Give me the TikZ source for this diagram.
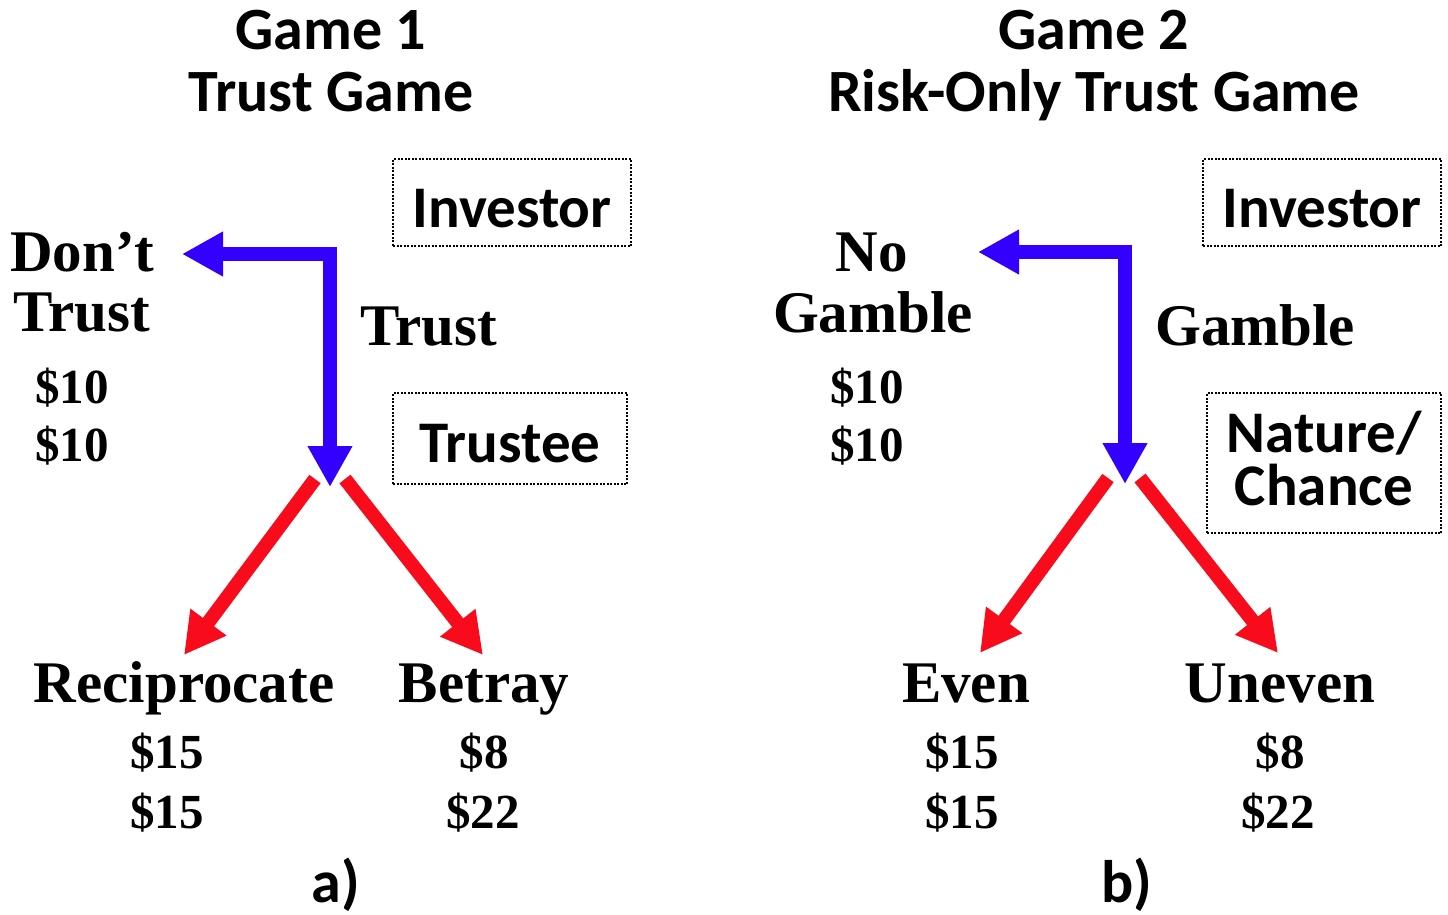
\documentclass[tikz,border=0pt]{standalone}
\usepackage{fontspec}
\setmainfont{Liberation Serif}
\newfontfamily\calfont{Carlito}
\usetikzlibrary{arrows.meta}
\definecolor{tblue}{RGB}{51,0,255}
\definecolor{tred}{RGB}{248,12,28}
\begin{document}
\begin{tikzpicture}[x=1pt,y=-1pt,
  ttl/.style={font=\calfont\bfseries\fontsize{60}{62}\selectfont, anchor=base, inner sep=0},
  lbl/.style={font=\bfseries\fontsize{59}{62}\selectfont, anchor=base, inner sep=0},
  pay/.style={font=\bfseries\fontsize{49}{56}\selectfont, anchor=base, inner sep=0},
  rolebox/.style={draw, line width=2pt, dash pattern=on 2pt off 1.5pt, font=\calfont\bfseries\fontsize{59}{53}\selectfont, anchor=base, inner sep=0, align=center},
  barrow/.style={draw=tblue, line width=14pt, line join=miter, {Triangle[length=41pt,width=42pt]}-{Triangle[length=41pt,width=42pt]}},
  rarrow/.style={draw=tred, line width=14pt, -{Triangle[length=41pt,width=42pt]}}
]
\useasboundingbox (0,0) rectangle (1448,915);
\fill[white] (0,0) rectangle (1448,915);

% Titles
\node[ttl] (g1a) at (331,50) {Game 1};
\node[ttl] (g1b) at (331,112) {Trust Game};
\node[ttl] (g2a) at (1094,50) {Game 2};
\node[ttl] (g2b) at (1094,112) {Risk-Only Trust Game};

% Role boxes
\node[rolebox, text width=238pt, text height=68pt, text depth=19pt] (inv1) at (512,227) {Investor};
\node[rolebox, text width=234pt, text height=69pt, text depth=22pt] (tee) at (510,462) {Trustee};
\node[rolebox, text width=238pt, text height=68pt, text depth=19pt] (inv2) at (1322,227) {Investor};
\node[rolebox, text width=234pt, text height=59pt, text depth=81pt] (nat) at (1324,452) {Nature/\\Chance};

% Game 1 labels
\node[lbl, anchor=base west] (dt1) at (10,271) {Don’t};
\node[lbl, anchor=base west] (dt2) at (13,331) {Trust};
\node[pay, anchor=base west] (p1a) at (35,403) {\$10};
\node[pay, anchor=base west] (p1b) at (35,461) {\$10};
\node[lbl, anchor=base west] (tr) at (360,345) {Trust};
\node[lbl] (rec) at (184,702) {Reciprocate};
\node[lbl] (bet) at (484,702) {Betray};
\node[pay] (r1) at (167,768) {\$15};
\node[pay] (r2) at (167,828) {\$15};
\node[pay] (b1) at (484,768) {\$8};
\node[pay] (b2) at (483,828) {\$22};
\node[ttl] (la) at (336,902) {a)};

% Game 2 labels
\node[lbl] (ng1) at (872,271) {No};
\node[lbl] (ng2) at (873,332) {Gamble};
\node[pay] (q1a) at (867,403) {\$10};
\node[pay] (q1b) at (867,461) {\$10};
\node[lbl, anchor=base west] (gm) at (1155,345) {Gamble};
\node[lbl] (ev) at (966,702) {Even};
\node[lbl] (un) at (1280,702) {Uneven};
\node[pay] (e1) at (962,768) {\$15};
\node[pay] (e2) at (962,828) {\$15};
\node[pay] (u1) at (1280,768) {\$8};
\node[pay] (u2) at (1278,828) {\$22};
\node[ttl] (lb) at (1127,902) {b)};

% Arrow coordinates
\coordinate (a1l) at (182,254);
\coordinate (a1c) at (330,254);
\coordinate (a1d) at (330,487);
\coordinate (r1ls) at (315,479);
\coordinate (r1le) at (184,655);
\coordinate (r1rs) at (345,479);
\coordinate (r1re) at (483,655);
\coordinate (a2l) at (978,252);
\coordinate (a2c) at (1125,252);
\coordinate (a2d) at (1125,484);
\coordinate (r2ls) at (1108,478);
\coordinate (r2le) at (980,653);
\coordinate (r2rs) at (1140,478);
\coordinate (r2re) at (1278,653);

\draw[barrow] (a1l) -- (a1c) -- (a1d);
\draw[rarrow] (r1ls) -- (r1le);
\draw[rarrow] (r1rs) -- (r1re);
\draw[barrow] (a2l) -- (a2c) -- (a2d);
\draw[rarrow] (r2ls) -- (r2le);
\draw[rarrow] (r2rs) -- (r2re);
\end{tikzpicture}
\end{document}
